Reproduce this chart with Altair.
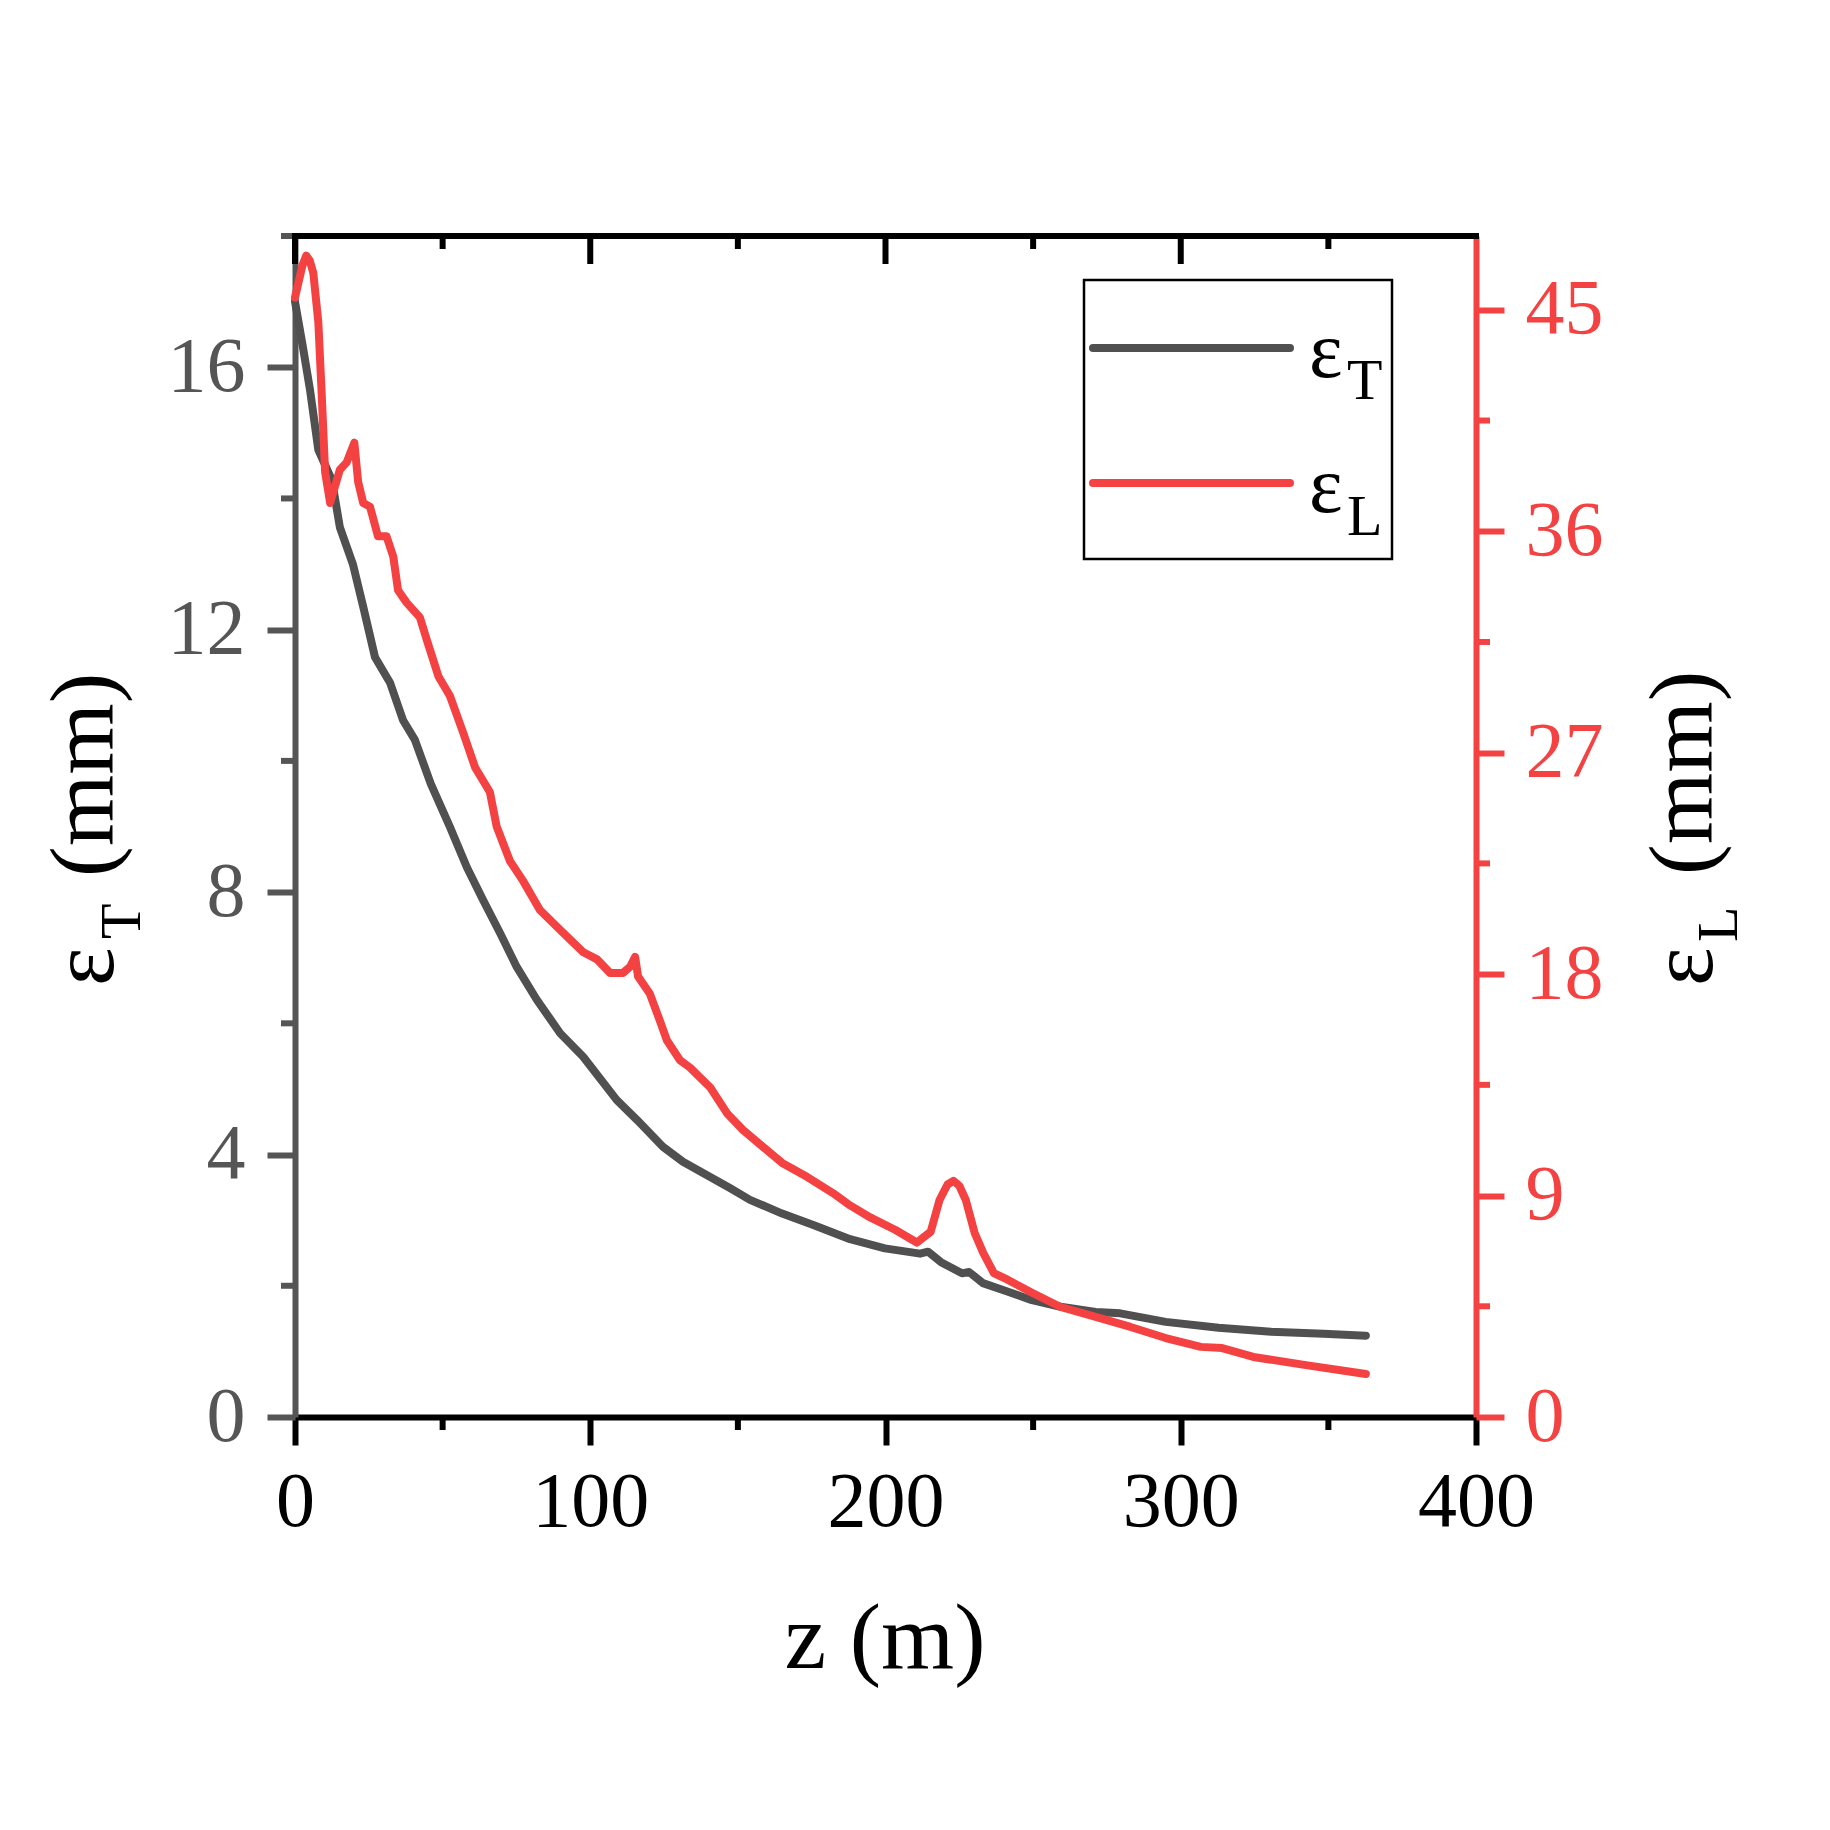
import altair as alt
import pandas as pd

# ---- data ----
z_T = [0, 2.7, 5.1, 7.9, 12.5, 15.2, 19.6, 23.1, 27.1, 32.2, 36.6, 40.6, 46, 52.5,
       58.2, 63.7, 69.4, 75.1, 81.9, 89.8, 97.6, 109, 115.8, 124.6, 131.4, 138.2,
       147.3, 154.1, 165, 176, 188, 199.8, 211.7, 214.4, 218.8, 225.9, 228.3, 233,
       241.5, 249.6, 259.3, 271.2, 279.5, 294.9, 312.8, 330.6, 348.4, 362.7]
eps_T = [17.0, 16.3, 15.65, 14.74, 14.28, 13.56, 13.0, 12.35, 11.58, 11.19, 10.62,
         10.32, 9.65, 8.99, 8.38, 7.88, 7.38, 6.86, 6.36, 5.85, 5.49, 4.83, 4.53,
         4.12, 3.89, 3.72, 3.49, 3.31, 3.1, 2.92, 2.71, 2.57, 2.49, 2.52, 2.36, 2.19,
         2.21, 2.04, 1.91, 1.78, 1.68, 1.60, 1.58, 1.45, 1.36, 1.30, 1.27, 1.24]

z_L = [0, 2.5, 3.8, 5.0, 6.2, 7.9, 9.0, 10.2, 11.9, 15.2, 17.5, 20.1, 21.4, 23.1,
       25.4, 28.1, 31.0, 33.3, 34.9, 37.8, 42.3, 44.6, 48.6, 52.5, 57, 61, 66, 68.3,
       72.8, 77.2, 83, 89.8, 97.5, 102.3, 106.7, 111.1, 113.5, 115.2, 116.2, 120.2,
       123.6, 126, 130.4, 133.8, 140.6, 146.3, 151.7, 158.5, 165.3, 173.4, 182.2,
       188, 195, 203.4, 210.6, 215.3, 218.3, 221, 223, 225, 227.2, 230.2, 233.1,
       236.7, 241.5, 249.8, 259.3, 271.2, 283, 294.9, 306.8, 314, 324.6, 342.4, 362.7]
eps_L = [45.5, 46.8, 47.2, 47.0, 46.5, 44.5, 41.7, 38.4, 37.15, 38.5, 38.8, 39.6, 38.0,
         37.15, 37.0, 35.8, 35.8, 34.96, 33.6, 33.1, 32.5, 31.6, 30.1, 29.3, 27.8,
         26.4, 25.4, 24.0, 22.6, 21.8, 20.6, 19.8, 18.9, 18.6, 18.05, 18.05, 18.3,
         18.7, 17.9, 17.2, 16.1, 15.3, 14.5, 14.2, 13.4, 12.35, 11.67, 10.98, 10.3,
         9.76, 9.1, 8.6, 8.1, 7.6, 7.09, 7.53, 8.82, 9.45, 9.6, 9.4, 8.82, 7.48, 6.67,
         5.85, 5.57, 5.04, 4.47, 4.07, 3.66, 3.21, 2.85, 2.8, 2.44, 2.11, 1.75]

x_major = [0, 100, 200, 300, 400]
x_minor = [50, 150, 250, 350]
x_top_major = [0, 100, 200, 300]
yT_major = [0, 4, 8, 12, 16]
yT_minor = [2, 6, 10, 14, 18]
yL_major = [0, 9, 18, 27, 36, 45]
yL_minor = [4.5, 13.5, 22.5, 31.5, 40.5]

series_symbol = ["ε", "ε"]
series_sub = ["T", "L"]
x_title = "z (m)"
unit = "(mm)"

# ---- style ----
W = H = 1181
FONT = "Liberation Serif"
LINE_GRAY = "#505050"
AX_GRAY = "#555555"
RED = "#F44242"
LW = 8     # data line width
AW = 6     # axis line / tick width

dfT = pd.DataFrame({"z": z_T, "v": eps_T})
dfL = pd.DataFrame({"z": z_L, "v": eps_L})


def xs():
    return alt.Scale(domain=[0, 400], nice=False, zero=False)


def yTs():
    return alt.Scale(domain=[0, 18], nice=False, zero=False)


def yLs():
    return alt.Scale(domain=[0, 48], nice=False, zero=False)


def xaxis():
    return alt.Axis(values=x_major, title=None, grid=False, tickSize=28, tickWidth=AW,
                    tickColor="black", domainColor="black", domainWidth=AW,
                    labelFont=FONT, labelFontSize=78, labelColor="black",
                    labelPadding=18, labelFlush=False, labelOverlap=False)


yTaxis = alt.Axis(values=yT_major, orient="left", title=None, grid=False, tickSize=28,
                  tickWidth=AW, tickColor=AX_GRAY, domainColor=AX_GRAY, domainWidth=AW,
                  labelFont=FONT, labelFontSize=78, labelColor=AX_GRAY,
                  labelPadding=22, labelFlush=False, labelOverlap=False)
yLaxis = alt.Axis(values=yL_major, orient="right", title=None, grid=False, tickSize=28,
                  tickWidth=AW, tickColor=RED, domainColor=RED, domainWidth=AW,
                  labelFont=FONT, labelFontSize=78, labelColor=RED,
                  labelPadding=21, labelFlush=False, labelOverlap=False)

gray_line = alt.Chart(dfT).mark_line(color=LINE_GRAY, strokeWidth=LW, strokeCap="round",
                                     strokeJoin="round").encode(
    x=alt.X("z:Q", scale=xs(), axis=xaxis()),
    y=alt.Y("v:Q", scale=yTs(), axis=yTaxis),
)
red_line = alt.Chart(dfL).mark_line(color=RED, strokeWidth=LW, strokeCap="round",
                                    strokeJoin="round").encode(
    x=alt.X("z:Q", scale=xs(), axis=xaxis()),
    y=alt.Y("v:Q", scale=yLs(), axis=yLaxis),
)

left_minor = alt.Chart(pd.DataFrame({"v": yT_minor})).mark_rule(
    color=AX_GRAY, strokeWidth=AW).encode(
    y=alt.Y("v:Q", scale=yTs(), axis=None), x=alt.value(0), x2=alt.value(-14))
right_minor = alt.Chart(pd.DataFrame({"v": yL_minor})).mark_rule(
    color=RED, strokeWidth=AW).encode(
    y=alt.Y("v:Q", scale=yLs(), axis=None), x=alt.value(W), x2=alt.value(W + 14))

top_major = alt.Chart(pd.DataFrame({"z": x_top_major})).mark_rule(
    color="black", strokeWidth=AW).encode(
    x=alt.X("z:Q", scale=xs(), axis=xaxis()), y=alt.value(0), y2=alt.value(28))
top_minor = alt.Chart(pd.DataFrame({"z": x_minor})).mark_rule(
    color="black", strokeWidth=AW).encode(
    x=alt.X("z:Q", scale=xs(), axis=xaxis()), y=alt.value(0), y2=alt.value(13))
bottom_minor = alt.Chart(pd.DataFrame({"z": x_minor})).mark_rule(
    color="black", strokeWidth=AW).encode(
    x=alt.X("z:Q", scale=xs(), axis=xaxis()), y=alt.value(H), y2=alt.value(H + 13))

one = pd.DataFrame({"a": [0]})
top_border = alt.Chart(one).mark_rule(color="black", strokeWidth=AW).encode(
    x=alt.value(-3), x2=alt.value(W + 3), y=alt.value(0))


def txt(s, x, y, size, angle=0, align="left", color="black"):
    kw = dict(font=FONT, fontSize=size, align=align, baseline="alphabetic", color=color)
    if angle:
        kw["angle"] = angle
    return alt.Chart(pd.DataFrame({"t": [s]})).mark_text(**kw).encode(
        text="t:N", x=alt.value(x), y=alt.value(y))


titles = [
    txt(x_title, 590, 1432, 94, align="center"),
    txt(series_symbol[0], -182, 750, 92, angle=270),
    txt(series_sub[0], -155, 703, 58, angle=270),
    txt(unit, -182, 641, 92, angle=270),
    txt(series_symbol[1], 1417, 750, 92, angle=270),
    txt(series_sub[1], 1442, 706, 58, angle=270),
    txt(unit, 1417, 639, 92, angle=270),
]

legend_box = alt.Chart(one).mark_rect(fill="white", stroke="black", strokeWidth=2.5).encode(
    x=alt.value(789), x2=alt.value(1097), y=alt.value(44), y2=alt.value(323))
leg_T = alt.Chart(one).mark_rule(color=LINE_GRAY, strokeWidth=8, strokeCap="round").encode(
    x=alt.value(798), x2=alt.value(995), y=alt.value(112))
leg_L = alt.Chart(one).mark_rule(color=RED, strokeWidth=8, strokeCap="round").encode(
    x=alt.value(798), x2=alt.value(995), y=alt.value(247))
legend = [
    legend_box, leg_T, leg_L,
    txt(series_symbol[0], 1014, 141, 80),
    txt(series_sub[0], 1052, 163, 58),
    txt(series_symbol[1], 1014, 276, 80),
    txt(series_sub[1], 1052, 299, 58),
]

chart = alt.layer(
    gray_line, red_line, left_minor, right_minor, top_major, top_minor, bottom_minor,
    top_border, *titles, *legend
).resolve_scale(
    y="independent"
).properties(
    width=W, height=H,
    autosize=alt.AutoSizeParams(type="none"),
    padding={"left": 287, "top": 228, "right": 346, "bottom": 405},
    background="white",
).configure_view(stroke=None)

chart.save("out.html", embed_options={"renderer": "svg", "actions": False})
